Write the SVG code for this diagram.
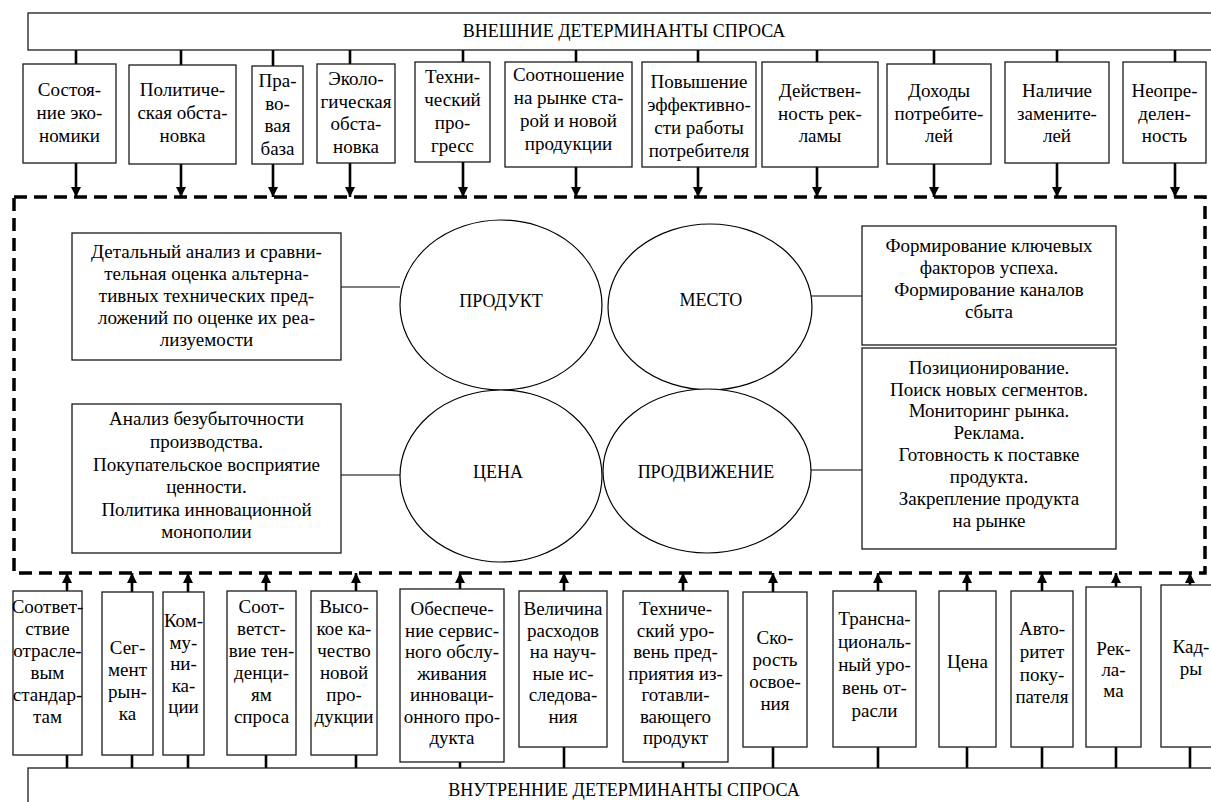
<svg xmlns="http://www.w3.org/2000/svg" width="1211" height="802" viewBox="0 0 1211 802" font-family="Liberation Serif, Times New Roman, DejaVu Serif, serif">
<defs>
<style>
text{fill:#000;text-anchor:middle}
.t{font-size:19px}
.h{font-size:18px}
.box{fill:#fff;stroke:#1a1a1a;stroke-width:1.3}
.c{stroke:#000;stroke-width:2.6;fill:none}
.thin{stroke:#000;stroke-width:1.2;fill:none}
.dash{stroke:#000;stroke-width:3.5;fill:none;stroke-dasharray:13 7}
.ell{fill:#fff;stroke:#000;stroke-width:1.2}
</style>
<marker id="ah" viewBox="0 0 10 10" refX="10" refY="5" markerWidth="10" markerHeight="10" markerUnits="userSpaceOnUse" orient="auto">
<path d="M0,0 L10,5 L0,10 z" fill="#000"/>
</marker>
</defs>
<rect width="1211" height="802" fill="#fff"/>

<rect class="dash" x="14" y="197" width="1191" height="376"/>

<g id="connectors">
<g class="c">
<line x1="76" y1="50" x2="76" y2="64"/>
<line x1="181" y1="50" x2="181" y2="65"/>
<line x1="273" y1="50" x2="273" y2="66"/>
<line x1="350" y1="50" x2="350" y2="64"/>
<line x1="463" y1="50" x2="463" y2="62"/>
<line x1="576" y1="50" x2="576" y2="62"/>
<line x1="698" y1="50" x2="698" y2="62"/>
<line x1="817" y1="50" x2="817" y2="62"/>
<line x1="934" y1="50" x2="934" y2="64"/>
<line x1="1057" y1="50" x2="1057" y2="62"/>
<line x1="1175" y1="50" x2="1175" y2="62"/>
</g>
<g class="c">
<line x1="76" y1="163" x2="76" y2="197" marker-end="url(#ah)"/>
<line x1="181" y1="164" x2="181" y2="197" marker-end="url(#ah)"/>
<line x1="273" y1="164" x2="273" y2="197" marker-end="url(#ah)"/>
<line x1="350" y1="163" x2="350" y2="197" marker-end="url(#ah)"/>
<line x1="463" y1="162" x2="463" y2="197" marker-end="url(#ah)"/>
<line x1="576" y1="167" x2="576" y2="197" marker-end="url(#ah)"/>
<line x1="698" y1="167" x2="698" y2="197" marker-end="url(#ah)"/>
<line x1="817" y1="167" x2="817" y2="197" marker-end="url(#ah)"/>
<line x1="934" y1="164" x2="934" y2="197" marker-end="url(#ah)"/>
<line x1="1057" y1="163" x2="1057" y2="197" marker-end="url(#ah)"/>
<line x1="1175" y1="163" x2="1175" y2="197" marker-end="url(#ah)"/>
</g>
<g class="c">
<line x1="67" y1="591" x2="67" y2="573" marker-end="url(#ah)"/>
<line x1="132" y1="592" x2="132" y2="573" marker-end="url(#ah)"/>
<line x1="188" y1="592" x2="188" y2="573" marker-end="url(#ah)"/>
<line x1="266" y1="591" x2="266" y2="573" marker-end="url(#ah)"/>
<line x1="356" y1="591" x2="356" y2="573" marker-end="url(#ah)"/>
<line x1="460" y1="589" x2="460" y2="573" marker-end="url(#ah)"/>
<line x1="564" y1="591" x2="564" y2="573" marker-end="url(#ah)"/>
<line x1="683" y1="591" x2="683" y2="573" marker-end="url(#ah)"/>
<line x1="773" y1="592" x2="773" y2="573" marker-end="url(#ah)"/>
<line x1="878" y1="591" x2="878" y2="573" marker-end="url(#ah)"/>
<line x1="967" y1="591" x2="967" y2="573" marker-end="url(#ah)"/>
<line x1="1042" y1="591" x2="1042" y2="573" marker-end="url(#ah)"/>
<line x1="1116" y1="587" x2="1116" y2="573" marker-end="url(#ah)"/>
<line x1="1190" y1="585" x2="1190" y2="573" marker-end="url(#ah)"/>
</g>
<g class="c">
<line x1="67" y1="755" x2="67" y2="768"/>
<line x1="132" y1="755" x2="132" y2="768"/>
<line x1="188" y1="755" x2="188" y2="768"/>
<line x1="266" y1="755" x2="266" y2="768"/>
<line x1="356" y1="755" x2="356" y2="768"/>
<line x1="460" y1="762" x2="460" y2="768"/>
<line x1="564" y1="747" x2="564" y2="768"/>
<line x1="683" y1="762" x2="683" y2="768"/>
<line x1="773" y1="747" x2="773" y2="768"/>
<line x1="878" y1="747" x2="878" y2="768"/>
<line x1="967" y1="747" x2="967" y2="768"/>
<line x1="1042" y1="747" x2="1042" y2="768"/>
<line x1="1116" y1="747" x2="1116" y2="768"/>
<line x1="1190" y1="747" x2="1190" y2="768"/>
</g>
<g class="thin">
<line x1="341" y1="287" x2="400" y2="287"/>
<line x1="341" y1="475" x2="400" y2="475"/>
<line x1="809" y1="296" x2="862" y2="296"/>
<line x1="803" y1="470" x2="862" y2="470"/>
</g>
</g>

<g id="ext-header">
<rect class="box" x="28" y="13" width="1200" height="37"/>
<text class="h" x="624" y="37">ВНЕШНИЕ ДЕТЕРМИНАНТЫ СПРОСА</text>
</g>
<g id="int-header">
<rect class="box" x="28" y="768" width="1200" height="60"/>
<text class="h" x="624" y="796">ВНУТРЕННИЕ ДЕТЕРМИНАНТЫ СПРОСА</text>
</g>

<g id="e1"><rect class="box" x="23" y="64" width="93" height="99"/><text class="t"><tspan x="69.5" y="96">Состоя-</tspan><tspan x="69.5" y="119">ние эко-</tspan><tspan x="69.5" y="142">номики</tspan></text></g>
<g id="e2"><rect class="box" x="129" y="65" width="107" height="99"/><text class="t"><tspan x="182.5" y="96">Политиче-</tspan><tspan x="182.5" y="119">ская обста-</tspan><tspan x="182.5" y="142">новка</tspan></text></g>
<g id="e3"><rect class="box" x="252" y="66" width="51" height="98"/><text class="t"><tspan x="277.5" y="87">Пра-</tspan><tspan x="277.5" y="110">во-</tspan><tspan x="277.5" y="132">вая</tspan><tspan x="277.5" y="155">база</tspan></text></g>
<g id="e4"><rect class="box" x="317" y="64" width="78" height="99"/><text class="t"><tspan x="356" y="85">Эколо-</tspan><tspan x="356" y="108">гическая</tspan><tspan x="356" y="130">обста-</tspan><tspan x="356" y="153">новка</tspan></text></g>
<g id="e5"><rect class="box" x="415" y="62" width="75" height="100"/><text class="t"><tspan x="452.5" y="83">Техни-</tspan><tspan x="452.5" y="106">ческий</tspan><tspan x="452.5" y="129">про-</tspan><tspan x="452.5" y="152">гресс</tspan></text></g>
<g id="e6"><rect class="box" x="505" y="62" width="127" height="105"/><text class="t"><tspan x="568.5" y="81">Соотношение</tspan><tspan x="568.5" y="104">на рынке ста-</tspan><tspan x="568.5" y="127">рой и новой</tspan><tspan x="568.5" y="150">продукции</tspan></text></g>
<g id="e7"><rect class="box" x="642" y="62" width="114" height="105"/><text class="t"><tspan x="699" y="88">Повышение</tspan><tspan x="699" y="111">эффективно-</tspan><tspan x="699" y="134">сти работы</tspan><tspan x="699" y="157">потребителя</tspan></text></g>
<g id="e8"><rect class="box" x="762" y="62" width="116" height="105"/><text class="t"><tspan x="820" y="97">Действен-</tspan><tspan x="820" y="120">ность рек-</tspan><tspan x="820" y="142">ламы</tspan></text></g>
<g id="e9"><rect class="box" x="887" y="64" width="104" height="100"/><text class="t"><tspan x="939" y="97">Доходы</tspan><tspan x="939" y="120">потребите-</tspan><tspan x="939" y="142">лей</tspan></text></g>
<g id="e10"><rect class="box" x="1005" y="62" width="104" height="101"/><text class="t"><tspan x="1057" y="97">Наличие</tspan><tspan x="1057" y="120">замените-</tspan><tspan x="1057" y="142">лей</tspan></text></g>
<g id="e11"><rect class="box" x="1123" y="62" width="83" height="101"/><text class="t"><tspan x="1164.5" y="97">Неопре-</tspan><tspan x="1164.5" y="120">делен-</tspan><tspan x="1164.5" y="142">ность</tspan></text></g>

<g id="m-left1"><rect class="box" x="72" y="233" width="269" height="127"/><text class="t"><tspan x="206.5" y="258">Детальный анализ и сравни-</tspan><tspan x="206.5" y="280">тельная оценка альтерна-</tspan><tspan x="206.5" y="302">тивных технических пред-</tspan><tspan x="206.5" y="324">ложений по оценке их реа-</tspan><tspan x="206.5" y="346">лизуемости</tspan></text></g>
<g id="m-left2"><rect class="box" x="72" y="404" width="269" height="149"/><text class="t"><tspan x="206.5" y="425">Анализ безубыточности</tspan><tspan x="206.5" y="448">производства.</tspan><tspan x="206.5" y="471">Покупательское восприятие</tspan><tspan x="206.5" y="493">ценности.</tspan><tspan x="206.5" y="516">Политика инновационной</tspan><tspan x="206.5" y="538">монополии</tspan></text></g>
<g id="m-right1"><rect class="box" x="862" y="226" width="254" height="119"/><text class="t"><tspan x="989" y="252">Формирование ключевых</tspan><tspan x="989" y="274">факторов успеха.</tspan><tspan x="989" y="296">Формирование каналов</tspan><tspan x="989" y="318">сбыта</tspan></text></g>
<g id="m-right2"><rect class="box" x="862" y="348" width="254" height="201"/><text class="t"><tspan x="989" y="374">Позиционирование.</tspan><tspan x="989" y="396">Поиск новых сегментов.</tspan><tspan x="989" y="417">Мониторинг рынка.</tspan><tspan x="989" y="439">Реклама.</tspan><tspan x="989" y="461">Готовность к поставке</tspan><tspan x="989" y="483">продукта.</tspan><tspan x="989" y="505">Закрепление продукта</tspan><tspan x="989" y="527">на рынке</tspan></text></g>

<g id="product"><ellipse class="ell" cx="501" cy="305" rx="101" ry="85"/><text class="h" x="501" y="307">ПРОДУКТ</text></g>
<g id="place"><ellipse class="ell" cx="710" cy="307" rx="102" ry="83"/><text class="h" x="711" y="306">МЕСТО</text></g>
<g id="price"><ellipse class="ell" cx="501" cy="476" rx="101" ry="86"/><text class="h" x="498" y="478">ЦЕНА</text></g>
<g id="promo"><ellipse class="ell" cx="707" cy="471" rx="104" ry="82"/><text class="h" x="706" y="478">ПРОДВИЖЕНИЕ</text></g>

<g id="i1"><rect class="box" x="13" y="591" width="69" height="164"/><text class="t"><tspan x="47.5" y="613">Соответ-</tspan><tspan x="47.5" y="635">ствие</tspan><tspan x="47.5" y="657">отрасле-</tspan><tspan x="47.5" y="679">вым</tspan><tspan x="47.5" y="701">стандар-</tspan><tspan x="47.5" y="723">там</tspan></text></g>
<g id="i2"><rect class="box" x="102" y="592" width="51" height="163"/><text class="t"><tspan x="127.5" y="654">Сег-</tspan><tspan x="127.5" y="676">мент</tspan><tspan x="127.5" y="698">рын-</tspan><tspan x="127.5" y="720">ка</tspan></text></g>
<g id="i3"><rect class="box" x="163" y="592" width="41" height="163"/><text class="t"><tspan x="183.5" y="627">Ком-</tspan><tspan x="183.5" y="649">му-</tspan><tspan x="183.5" y="670">ни-</tspan><tspan x="183.5" y="692">ка-</tspan><tspan x="183.5" y="713">ции</tspan></text></g>
<g id="i4"><rect class="box" x="227" y="591" width="69" height="164"/><text class="t"><tspan x="261.5" y="613">Соот-</tspan><tspan x="261.5" y="635">ветст-</tspan><tspan x="261.5" y="657">вие тен-</tspan><tspan x="261.5" y="679">денци-</tspan><tspan x="261.5" y="701">ям</tspan><tspan x="261.5" y="723">спроса</tspan></text></g>
<g id="i5"><rect class="box" x="311" y="591" width="66" height="164"/><text class="t"><tspan x="344" y="613">Высо-</tspan><tspan x="344" y="635">кое ка-</tspan><tspan x="344" y="657">чество</tspan><tspan x="344" y="679">новой</tspan><tspan x="344" y="701">про-</tspan><tspan x="344" y="723">дукции</tspan></text></g>
<g id="i6"><rect class="box" x="400" y="589" width="104" height="173"/><text class="t"><tspan x="452" y="615">Обеспече-</tspan><tspan x="452" y="637">ние сервис-</tspan><tspan x="452" y="658">ного обслу-</tspan><tspan x="452" y="680">живания</tspan><tspan x="452" y="701">инноваци-</tspan><tspan x="452" y="723">онного про-</tspan><tspan x="452" y="744">дукта</tspan></text></g>
<g id="i7"><rect class="box" x="519" y="591" width="88" height="156"/><text class="t"><tspan x="563" y="615">Величина</tspan><tspan x="563" y="637">расходов</tspan><tspan x="563" y="658">на науч-</tspan><tspan x="563" y="680">ные ис-</tspan><tspan x="563" y="701">следова-</tspan><tspan x="563" y="723">ния</tspan></text></g>
<g id="i8"><rect class="box" x="623" y="591" width="105" height="171"/><text class="t"><tspan x="675.5" y="615">Техниче-</tspan><tspan x="675.5" y="637">ский уро-</tspan><tspan x="675.5" y="658">вень пред-</tspan><tspan x="675.5" y="680">приятия из-</tspan><tspan x="675.5" y="701">готавли-</tspan><tspan x="675.5" y="723">вающего</tspan><tspan x="675.5" y="744">продукт</tspan></text></g>
<g id="i9"><rect class="box" x="743" y="592" width="64" height="155"/><text class="t"><tspan x="775" y="644">Ско-</tspan><tspan x="775" y="666">рость</tspan><tspan x="775" y="688">освое-</tspan><tspan x="775" y="710">ния</tspan></text></g>
<g id="i10"><rect class="box" x="833" y="591" width="83" height="156"/><text class="t"><tspan x="874.5" y="625">Трансна-</tspan><tspan x="874.5" y="648">циональ-</tspan><tspan x="874.5" y="671">ный уро-</tspan><tspan x="874.5" y="694">вень от-</tspan><tspan x="874.5" y="717">расли</tspan></text></g>
<g id="i11"><rect class="box" x="939" y="591" width="57" height="156"/><text class="t" x="967.5" y="668">Цена</text></g>
<g id="i12"><rect class="box" x="1011" y="591" width="62" height="156"/><text class="t"><tspan x="1042" y="635">Авто-</tspan><tspan x="1042" y="658">ритет</tspan><tspan x="1042" y="681">поку-</tspan><tspan x="1042" y="703">пателя</tspan></text></g>
<g id="i13"><rect class="box" x="1086" y="587" width="55" height="160"/><text class="t"><tspan x="1113.5" y="655">Рек-</tspan><tspan x="1113.5" y="676">ла-</tspan><tspan x="1113.5" y="697">ма</tspan></text></g>
<g id="i14"><rect class="box" x="1161" y="585" width="64" height="162"/><text class="t"><tspan x="1191" y="653">Кад-</tspan><tspan x="1191" y="675">ры</tspan></text></g>
</svg>
